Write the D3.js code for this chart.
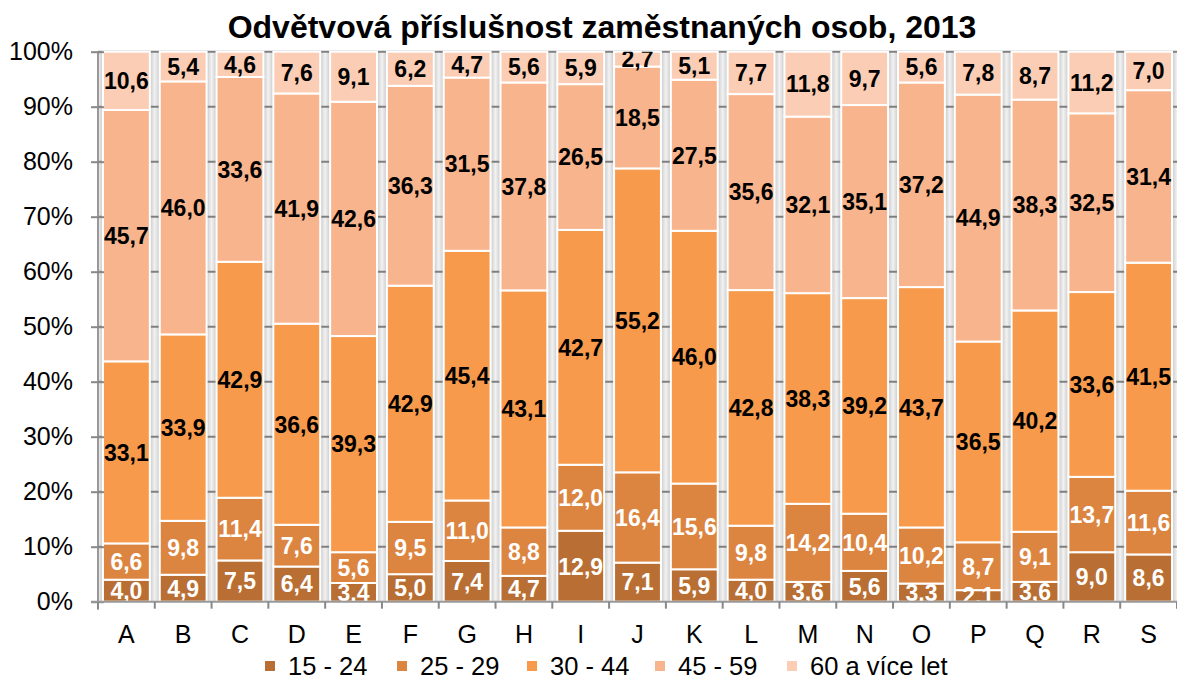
<!DOCTYPE html>
<html>
<head>
<meta charset="utf-8">
<script src="https://cdn.jsdelivr.net/npm/d3@7"></script>
<style>
  body { margin: 0; background: #fff; }
  svg { font-family: "Liberation Sans", Arial, sans-serif; }
</style>
</head>
<body>
<svg width="1177" height="681"></svg>
<script>
// kategorie odvetvi (CZ-NACE)
var categories = ["A","B","C","D","E","F","G","H","I","J","K","L","M","N","O","P","Q","R","S"];
var seriesNames = ["15 - 24", "25 - 29", "30 - 44", "45 - 59", "60 a více let"];

var age15_24 = [4.0, 4.9, 7.5, 6.4, 3.4, 5.0, 7.4, 4.7, 12.9, 7.1, 5.9, 4.0, 3.6, 5.6, 3.3, 2.1, 3.6, 9.0, 8.6];
var age25_29 = [6.6, 9.8, 11.4, 7.6, 5.6, 9.5, 11.0, 8.8, 12.0, 16.4, 15.6, 9.8, 14.2, 10.4, 10.2, 8.7, 9.1, 13.7, 11.6];
var age30_44 = [33.1, 33.9, 42.9, 36.6, 39.3, 42.9, 45.4, 43.1, 42.7, 55.2, 46.0, 42.8, 38.3, 39.2, 43.7, 36.5, 40.2, 33.6, 41.5];
var age45_59 = [45.7, 46.0, 33.6, 41.9, 42.6, 36.3, 31.5, 37.8, 26.5, 18.5, 27.5, 35.6, 32.1, 35.1, 37.2, 44.9, 38.3, 32.5, 31.4];
var age60plus = [10.6, 5.4, 4.6, 7.6, 9.1, 6.2, 4.7, 5.6, 5.9, 2.7, 5.1, 7.7, 11.8, 9.7, 5.6, 7.8, 8.7, 11.2, 7.0];

var yTicks = [0, 0.1, 0.2, 0.3, 0.4, 0.5, 0.6, 0.7, 0.8, 0.9, 1];

var colors = ["#b96f33", "#dc8541", "#f79a4b", "#f8b48c", "#fbcdb4"];
var labelColors = ["#fff", "#fff", "#000", "#000", "#000"];

var allSeries = [age15_24, age25_29, age30_44, age45_59, age60plus];
var rows = categories.map(function(c, i) {
  var r = { cat: c };
  seriesNames.forEach(function(s, j) { r[s] = allSeries[j][i]; });
  return r;
});

var svg = d3.select("svg");
var plotL = 98, plotR = 1177, plotT = 51.7, plotB = 601.7;

var x = d3.scaleBand()
  .domain(categories)
  .range([plotL, plotR])
  .paddingInner(0.175)
  .paddingOuter(0.0875);

var y = d3.scaleLinear().domain([0, 1]).range([plotB, plotT]);

var stack = d3.stack().keys(seriesNames).offset(d3.stackOffsetExpand);
var stacked = stack(rows);

// gradient for gaps between bars
var defs = svg.append("defs");
var grad = defs.append("linearGradient").attr("id", "gap").attr("x1", 0).attr("x2", 1).attr("y1", 0).attr("y2", 0);
grad.append("stop").attr("offset", "0%").attr("stop-color", "#c9c9c9");
grad.append("stop").attr("offset", "50%").attr("stop-color", "#f2f2f2");
grad.append("stop").attr("offset", "100%").attr("stop-color", "#c9c9c9");

defs.append("clipPath").attr("id", "plot")
  .append("rect").attr("x", plotL).attr("y", plotT).attr("width", plotR - plotL).attr("height", plotB - plotT);

var step = x.step();
var gapW = step * x.paddingInner();
var bounds = d3.range(categories.length + 1).map(function(i) { return plotL + i * step; });

var bg = svg.append("g").attr("clip-path", "url(#plot)");
bg.selectAll("rect").data(bounds).enter().append("rect")
  .attr("x", d => d - gapW / 2)
  .attr("y", plotT)
  .attr("width", gapW)
  .attr("height", plotB - plotT)
  .attr("fill", "url(#gap)");

// gridlines
svg.append("g").selectAll("line").data(yTicks.slice(1)).enter().append("line")
  .attr("x1", plotL).attr("x2", plotR)
  .attr("y1", d => y(d)).attr("y2", d => y(d))
  .attr("stroke", "#7f7f7f").attr("stroke-width", 2);

// bars
var layers = svg.append("g").selectAll("g").data(stacked).enter().append("g")
  .attr("fill", (d, i) => colors[i]);

layers.selectAll("rect").data(d => d).enter().append("rect")
  .attr("x", d => x(d.data.cat))
  .attr("y", d => y(d[1]))
  .attr("width", x.bandwidth())
  .attr("height", d => y(d[0]) - y(d[1]))
  .attr("stroke", "#fff")
  .attr("stroke-width", 2);

// data labels
var fmt = d3.format(".1f");
var lab = svg.append("g").attr("clip-path", "url(#plot)");
stacked.forEach(function(layer, i) {
  lab.selectAll(".l" + i).data(layer).enter().append("text")
    .attr("class", "l" + i)
    .attr("x", d => x(d.data.cat) + x.bandwidth() / 2)
    .attr("y", d => (y(d[0]) + y(d[1])) / 2)
    .attr("dy", "0.36em")
    .attr("text-anchor", "middle")
    .attr("font-size", 23)
    .attr("font-weight", "bold")
    .attr("fill", labelColors[i])
    .text(d => fmt(d.data[layer.key]).replace(".", ","));
});

// axes
var yAxis = d3.axisLeft(y).tickValues(yTicks).tickFormat(d3.format(".0%")).tickSize(7).tickPadding(18);
var gy = svg.append("g").attr("transform", "translate(" + plotL + ",0)").call(yAxis);
gy.select(".domain").attr("stroke", "#999").attr("stroke-width", 2).attr("d", "M0," + plotT + "V" + (plotB + 8));
gy.selectAll(".tick line").attr("stroke", "#888").attr("stroke-width", 2).attr("x1", 6);
gy.selectAll(".tick text").attr("font-size", 25).attr("fill", "#000").attr("font-family", "Liberation Sans, Arial");

var gx = svg.append("g").attr("transform", "translate(0," + plotB + ")");
gx.append("line").attr("x1", plotL - 7).attr("x2", plotR).attr("y1", 0).attr("y2", 0)
  .attr("stroke", "#999").attr("stroke-width", 2);
gx.selectAll(".bt").data(bounds).enter().append("line")
  .attr("x1", d => d).attr("x2", d => d).attr("y1", 0).attr("y2", 7)
  .attr("stroke", "#888").attr("stroke-width", 2);
gx.selectAll(".xl").data(categories).enter().append("text")
  .attr("x", d => x(d) + x.bandwidth() / 2)
  .attr("y", 41)
  .attr("text-anchor", "middle")
  .attr("font-size", 25)
  .text(d => d);

// title
svg.append("text")
  .attr("x", 602).attr("y", 38)
  .attr("text-anchor", "middle")
  .attr("font-size", 32)
  .attr("font-weight", "bold")
  .text("Odvětvová příslušnost zaměstnaných osob, 2013");

// legend
var legendX = [265, 397, 527, 655, 787];
var lg = svg.append("g").selectAll("g").data(seriesNames).enter().append("g")
  .attr("transform", (d, i) => "translate(" + legendX[i] + ",661)");
lg.append("rect").attr("width", 10).attr("height", 10).attr("fill", (d, i) => colors[i]);
lg.append("text").attr("x", 23).attr("y", 13.5).attr("font-size", 25.5).text(d => d);
</script>
</body>
</html>
